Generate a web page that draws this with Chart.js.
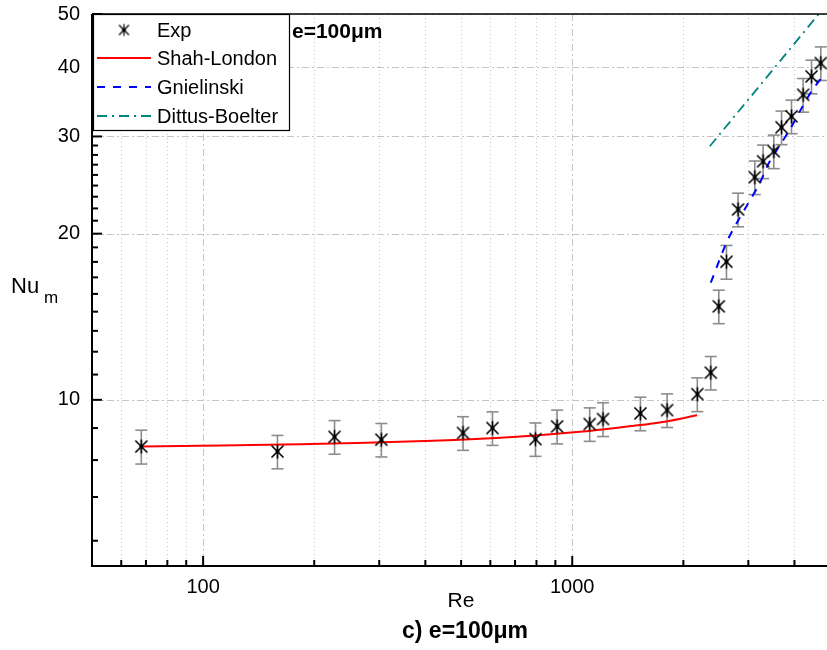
<!DOCTYPE html>
<html>
<head>
<meta charset="utf-8">
<script src="https://cdn.jsdelivr.net/npm/chart.js@4.4.1/dist/chart.umd.min.js"></script>
<style>
  body { margin: 0; background: #fff; }
  canvas { display: block; }
</style>
</head>
<body>
<canvas id="nusselt" width="827" height="650"></canvas>
<script>
// measured points (Re, Nu_m) and their error
const expRe = [68, 159, 227, 304, 506, 608, 795, 910, 1115, 1212, 1530, 1807, 2182, 2373, 2495, 2617, 2814, 3123, 3289, 3516, 3690, 3927, 4222, 4449, 4714];
const expNu = [8.23, 8.06, 8.57, 8.47, 8.71, 8.89, 8.49, 8.95, 9.04, 9.23, 9.45, 9.58, 10.24, 11.2, 14.77, 17.79, 22.13, 25.31, 27.05, 28.2, 31.17, 32.63, 35.7, 38.54, 40.74];
const expErr = [0.58, 0.56, 0.60, 0.59, 0.61, 0.62, 0.59, 0.63, 0.63, 0.65, 0.66, 0.67, 0.72, 0.78, 1.03, 1.25, 1.55, 1.77, 1.89, 1.97, 2.18, 2.28, 2.50, 2.70, 2.85];

// correlations
const shahRe = [68, 183, 419, 706, 1068, 1459, 1800, 2179];
const shahNu = [8.23, 8.31, 8.43, 8.57, 8.76, 8.97, 9.14, 9.38];
const gnielRe = [2373, 2655, 3222, 3393, 3612, 3886, 4135, 4449, 4714];
const gnielNu = [16.3, 19.66, 24.7, 26.69, 28.59, 30.87, 33.31, 36.22, 38.17];
const dittusRe = [2359, 4656];
const dittusNu = [28.8, 50];

// axes
const xMajorTicks = [100, 1000];
const xMinorTicks = [60, 70, 80, 90, 200, 300, 400, 500, 600, 700, 800, 900, 2000, 3000, 4000];
const yMajorTicks = [10, 20, 30, 40, 50];
const seriesNames = ["Exp", "Shah-London", "Gnielinski", "Dittus-Boelter"];

const FONT = "'Liberation Sans', Arial, sans-serif";

// y minor ticks: 8 between each pair of majors
const yMinorTicks = [];
for (let n = 1; n < 45; n++) {
    const v = n * 10 / 9;
    if (v > 5 && v < 50 && n % 9 !== 0) yMinorTicks.push(v);
}

const toPoints = (xs, ys) => xs.map((x, i) => ({ x: x, y: ys[i] }));

// asterisk marker
const makeStar = (r, w) => {
    const c = document.createElement("canvas");
    c.width = 17;
    c.height = 17;
    const g = c.getContext("2d");
    g.strokeStyle = "#000";
    g.lineWidth = w;
    const m = 8.5;
    g.beginPath();
    g.moveTo(m - r, m - r); g.lineTo(m + r, m + r);
    g.moveTo(m + r, m - r); g.lineTo(m - r, m + r);
    g.moveTo(m, m - r - 1); g.lineTo(m, m + r + 1);
    g.stroke();
    g.fillStyle = "#000";
    g.beginPath();
    g.arc(m, m, 2, 0, Math.PI * 2);
    g.fill();
    return c;
};
const star = makeStar(6, 1.6);
const legendStar = makeStar(5, 1.2);

const line = (ctx, x1, y1, x2, y2) => {
    ctx.beginPath();
    ctx.moveTo(x1, y1);
    ctx.lineTo(x2, y2);
    ctx.stroke();
};

const decorations = {
    id: "decorations",
    beforeDatasetsDraw(chart) {
        const { ctx, chartArea: a, scales: { x, y } } = chart;
        ctx.save();
        ctx.strokeStyle = "#c4c4c4";
        ctx.lineWidth = 1;
        // minor grid, dotted
        ctx.setLineDash([1, 3]);
        xMinorTicks.forEach((v) => {
            const px = Math.round(x.getPixelForValue(v)) + 0.5;
            line(ctx, px, a.top, px, a.bottom);
        });
        // major grid, dash-dot
        ctx.setLineDash([7, 3, 2, 3]);
        xMajorTicks.forEach((v) => {
            const px = Math.round(x.getPixelForValue(v)) + 0.5;
            line(ctx, px, a.top, px, a.bottom);
        });
        yMajorTicks.forEach((v) => {
            const py = Math.round(y.getPixelForValue(v)) + 0.5;
            line(ctx, a.left, py, a.right, py);
        });
        ctx.setLineDash([]);

        // error bars
        ctx.strokeStyle = "#8c8c8c";
        ctx.lineWidth = 1.6;
        expRe.forEach((re, i) => {
            const px = x.getPixelForValue(re);
            const top = y.getPixelForValue(expNu[i] + expErr[i]);
            const bot = y.getPixelForValue(expNu[i] - expErr[i]);
            line(ctx, px, top, px, bot);
            line(ctx, px - 6, top, px + 6, top);
            line(ctx, px - 6, bot, px + 6, bot);
        });
        ctx.restore();
    },
    afterDraw(chart) {
        const { ctx, chartArea: a, scales: { x, y } } = chart;
        ctx.save();
        ctx.strokeStyle = "#000";

        // frame
        ctx.lineWidth = 2;
        line(ctx, a.left, a.top, a.left, a.bottom + 1);
        line(ctx, a.left - 1, a.bottom, a.right, a.bottom);
        ctx.lineWidth = 1.5;
        line(ctx, a.left, a.top, a.right, a.top);

        // inward tick marks
        ctx.lineWidth = 2;
        xMajorTicks.forEach((v) => {
            const px = x.getPixelForValue(v);
            line(ctx, px, a.bottom, px, a.bottom - 10);
        });
        xMinorTicks.forEach((v) => {
            const px = x.getPixelForValue(v);
            line(ctx, px, a.bottom, px, a.bottom - 6);
        });
        yMajorTicks.forEach((v) => {
            const py = y.getPixelForValue(v);
            line(ctx, a.left, py, a.left + 10, py);
        });
        yMinorTicks.forEach((v) => {
            const py = y.getPixelForValue(v);
            line(ctx, a.left, py, a.left + 6, py);
        });

        // texts
        ctx.fillStyle = "#000";
        ctx.textBaseline = "alphabetic";
        ctx.font = "bold 21px " + FONT;
        ctx.textAlign = "left";
        ctx.fillText("e=100μm", 292, 38);
        ctx.textAlign = "center";
        ctx.font = "bold 23px " + FONT;
        ctx.fillText("c) e=100μm", 465, 638);
        ctx.font = "21px " + FONT;
        ctx.fillText("Re", 461, 607);
        ctx.textAlign = "left";
        ctx.font = "22px " + FONT;
        ctx.fillText("Nu", 11, 293);
        ctx.font = "17px " + FONT;
        ctx.fillText("m", 44, 303);

        // legend
        const lx = 93, ly = 14, lw = 196, lh = 116;
        ctx.fillStyle = "#fff";
        ctx.fillRect(lx, ly, lw, lh);
        ctx.lineWidth = 1.2;
        ctx.strokeRect(lx + 0.5, ly + 0.5, lw, lh);
        const rows = [30, 58, 87, 116];
        chart.data.datasets.forEach((ds, i) => {
            const ry = rows[i];
            if (i === 0) {
                ctx.drawImage(legendStar, 124 - 8.5, ry - 8.5);
            } else {
                ctx.strokeStyle = ds.borderColor;
                ctx.lineWidth = ds.borderWidth;
                ctx.setLineDash(ds.borderDash || []);
                line(ctx, 97, ry, 151, ry);
                ctx.setLineDash([]);
            }
            ctx.fillStyle = "#000";
            ctx.font = "20px " + FONT;
            ctx.textBaseline = "middle";
            ctx.fillText(seriesNames[i], 157, ry + 1);
        });
        ctx.restore();
    }
};

const context = document.getElementById("nusselt").getContext("2d");
const nusseltChart = new Chart(context, {
    type: "line",
    data: {
        datasets: [{
            label: seriesNames[0],
            data: toPoints(expRe, expNu),
            showLine: false,
            pointStyle: star,
            borderColor: "#000",
            backgroundColor: "#000"
        }, {
            label: seriesNames[1],
            data: toPoints(shahRe, shahNu),
            borderColor: "#ff0000",
            borderWidth: 2,
            pointRadius: 0,
            tension: 0.3
        }, {
            label: seriesNames[2],
            data: toPoints(gnielRe, gnielNu),
            borderColor: "#0000ff",
            borderWidth: 2,
            borderDash: [8, 8],
            pointRadius: 0,
            tension: 0.3
        }, {
            label: seriesNames[3],
            data: toPoints(dittusRe, dittusNu),
            borderColor: "#00847e",
            borderWidth: 1.8,
            borderDash: [10, 5, 2, 5],
            pointRadius: 0
        }]
    },
    options: {
        responsive: false,
        animation: false,
        layout: {
            autoPadding: false,
            padding: { top: 14, right: 0, left: 0, bottom: 0 }
        },
        plugins: {
            legend: { display: false },
            tooltip: { enabled: false }
        },
        scales: {
            x: {
                type: "logarithmic",
                position: "bottom",
                min: 50,
                max: 4900,
                grid: { display: false, drawTicks: false },
                border: { display: false },
                afterBuildTicks: (scale) => {
                    scale.ticks = xMajorTicks.map((v) => ({ value: v }));
                },
                afterFit: (scale) => {
                    scale.height = 84;
                    scale.paddingLeft = 0;
                    scale.paddingRight = 0;
                },
                ticks: {
                    autoSkip: false,
                    maxRotation: 0,
                    padding: 9,
                    color: "#000",
                    font: { family: FONT, size: 20 },
                    callback: (v) => String(v)
                }
            },
            y: {
                type: "logarithmic",
                min: 5,
                max: 50,
                grid: { display: false, drawTicks: false },
                border: { display: false },
                afterBuildTicks: (scale) => {
                    scale.ticks = yMajorTicks.map((v) => ({ value: v }));
                },
                afterFit: (scale) => {
                    scale.width = 92;
                    scale.paddingTop = 0;
                    scale.paddingBottom = 0;
                },
                ticks: {
                    autoSkip: false,
                    padding: 12,
                    color: "#000",
                    font: { family: FONT, size: 20 },
                    callback: (v) => String(v)
                }
            }
        }
    },
    plugins: [decorations]
});
</script>
</body>
</html>
